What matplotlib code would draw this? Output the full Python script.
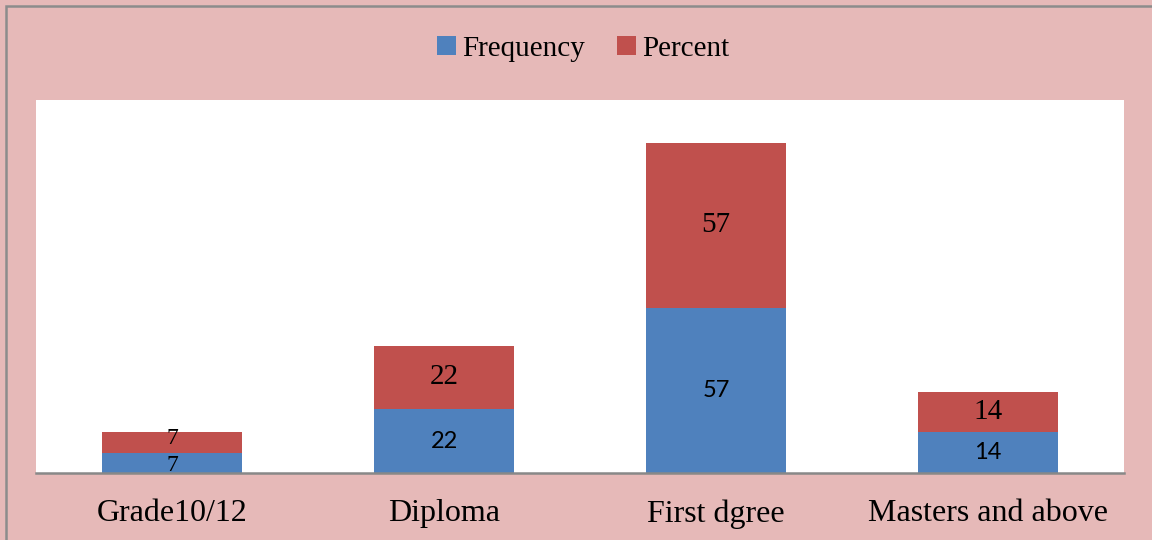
import matplotlib
matplotlib.use("Agg")
import matplotlib.pyplot as plt
from matplotlib.patches import Rectangle
import numpy as np

categories = ["Grade10/12", "Diploma", "First dgree", "Masters and above"]
frequency = [7, 22, 57, 14]
percent = [7, 22, 57, 14]

BLUE = "#4F81BD"
RED = "#C0504D"
PINK = "#E6B9B8"
SERIF = "Liberation Serif"
SANS = "Lato"

fig = plt.figure(figsize=(11.52, 5.4), dpi=100, facecolor=PINK)
ax = fig.add_axes([36 / 1152, 67 / 540, 1088 / 1152, 373 / 540])
ax.set_facecolor("white")

x = np.arange(len(categories))
width = 0.515
b1 = ax.bar(x, frequency, width, color=BLUE, label="Frequency", zorder=2)
b2 = ax.bar(x, percent, width, bottom=frequency, color=RED, label="Percent", zorder=2)

ax.set_xlim(-0.5, len(categories) - 0.5)
total_max = max(f + p for f, p in zip(frequency, percent))
ax.set_ylim(0, total_max / 0.885)

# value labels centred in each segment; thin segments get smaller,
# slightly spread labels
for i, (f, p) in enumerate(zip(frequency, percent)):
    if f < 10:
        ax.annotate(str(f), (i, f / 2), xytext=(0, -2), textcoords="offset points",
                    ha="center", va="center", fontsize=17, family=SERIF, zorder=3)
        ax.annotate(str(p), (i, f + p / 2), xytext=(0, 3), textcoords="offset points",
                    ha="center", va="center", fontsize=17, family=SERIF, zorder=3)
    else:
        ax.text(i, f / 2, str(f), ha="center", va="center", fontsize=17,
                family=SANS, color="black", zorder=3)
        ax.text(i, f + p / 2, str(p), ha="center", va="center", fontsize=21,
                family=SERIF, color="black", zorder=3)

for s in ("top", "right", "left"):
    ax.spines[s].set_visible(False)
ax.spines["bottom"].set_color("#888888")
ax.spines["bottom"].set_linewidth(1.8)
ax.set_yticks([])
ax.set_xticks(x)
ax.set_xticklabels(categories, family=SERIF, fontsize=23)
ax.tick_params(axis="x", length=0, pad=19)

leg = fig.legend(handles=[b1, b2], labels=["Frequency", "Percent"],
                 loc="center", bbox_to_anchor=(583 / 1152, 1 - 49 / 540),
                 ncol=2, frameon=False, prop={"family": SERIF, "size": 21},
                 handlelength=0.65, handleheight=0.65, handletextpad=0.2,
                 columnspacing=1.1)

# outer frame
fig.patches.append(Rectangle((6 / 1152, -0.1), 1.2, 1 - 6 / 540 + 0.1,
                             transform=fig.transFigure, fill=False,
                             edgecolor="#8C8C8C", linewidth=1.8))

fig.savefig("out.png", dpi=100, facecolor=PINK)
